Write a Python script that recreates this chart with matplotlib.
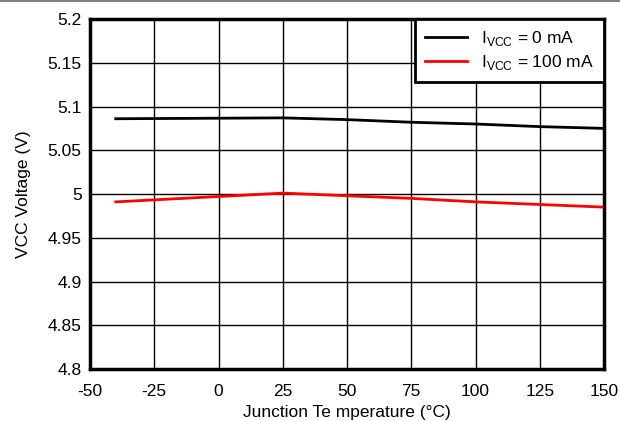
import matplotlib
matplotlib.use('Agg')
import matplotlib.pyplot as plt
from matplotlib.lines import Line2D

plt.rcParams['font.family'] = ['Liberation Sans', 'DejaVu Sans']
plt.rcParams['mathtext.fontset'] = 'custom'
plt.rcParams['mathtext.rm'] = 'Liberation Sans'

temp = [-40, 25, 50, 75, 100, 125, 150]
v_0ma = [5.086, 5.087, 5.085, 5.082, 5.080, 5.077, 5.075]
v_100ma = [4.991, 5.001, 4.998, 4.995, 4.991, 4.988, 4.985]

xticks = [-50, -25, 0, 25, 50, 75, 100, 125, 150]
yticks = [4.8, 4.85, 4.9, 4.95, 5.0, 5.05, 5.1, 5.15, 5.2]
ylabels = ['4.8', '4.85', '4.9', '4.95', '5', '5.05', '5.1', '5.15', '5.2']

fig = plt.figure(figsize=(6.2, 4.21), dpi=100)
ax = fig.add_axes([90 / 620, 1 - 369 / 421, 514 / 620, 350 / 421])

ax.plot(temp, v_0ma, color='black', lw=2, label=r'I$_{\mathrm{VCC}}$ = 0 mA')
ax.plot(temp, v_100ma, color='red', lw=2, label=r'I$_{\mathrm{VCC}}$ = 100 mA')

ax.set_xlim(-50, 150)
ax.set_ylim(4.8, 5.2)
ax.set_xticks(xticks)
ax.set_xticklabels([str(t) for t in xticks])
ax.set_yticks(yticks)
ax.set_yticklabels(ylabels)
ax.tick_params(length=0, labelsize=12.5)
ax.tick_params(axis='y', pad=6)
ax.tick_params(axis='x', pad=11)
ax.grid(True, color='black', lw=1)
ax.set_axisbelow(True)
for s in ax.spines.values():
    s.set_linewidth(2.5)

ax.set_xlabel('Junction Te mperature (°C)', fontsize=12.5, labelpad=4)
ax.set_ylabel('VCC Voltage (V)', fontsize=12.5, labelpad=12)

leg = ax.legend(loc='upper right', fontsize=12.5, frameon=True, fancybox=False,
                borderaxespad=0, handlelength=2.4, handletextpad=0.8,
                labelspacing=0.25, borderpad=0.6)
leg.get_frame().set_edgecolor('black')
leg.get_frame().set_linewidth(2)
leg.get_frame().set_alpha(1)

fig.add_artist(Line2D([0, 1], [1 - 1 / 421, 1 - 1 / 421], color='gray', lw=1.5))

fig.savefig('out.png', dpi=100)
